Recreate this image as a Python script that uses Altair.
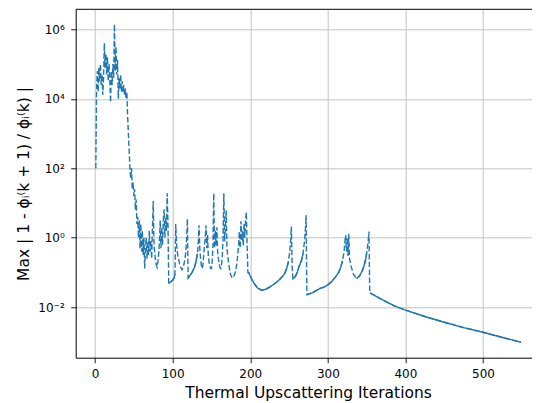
import altair as alt
import pandas as pd

# Iteration index and residual
ITER = [
    1, 2, 3, 4, 5, 6, 7, 8, 9, 10, 11, 12, 13, 14, 15, 16, 17, 18, 19, 20,
    21, 22, 23, 24, 25, 26, 27, 28, 29, 30, 31, 32, 33, 34, 35, 36, 37, 38, 39, 40,
    41, 42, 43, 44, 45, 46, 47, 48, 49, 50, 51, 52, 53, 54, 55, 56, 57, 58, 59, 60,
    61, 62, 63, 64, 65, 66, 67, 68, 69, 70, 71, 72, 73, 74, 75, 76, 77, 78, 79, 80,
    81, 82, 83, 84, 85, 86, 87, 88, 89, 90, 91, 92, 93, 94,
    95, 98, 100, 102, 103, 104, 105, 106, 107, 109, 111, 112, 114, 116, 117, 118, 119,
    120, 122, 125, 128, 130, 132, 133, 134,
    135, 136, 137, 138, 139, 140, 141, 142, 143, 144, 145, 146, 147, 148, 149, 150,
    151, 152, 153, 154, 155, 156, 157, 158, 159, 160, 161, 162, 163, 164, 165, 166,
    167, 168, 169, 170, 171, 172, 173, 174, 175, 176, 177, 178, 179, 180, 181, 182,
    183, 184, 185, 186, 187, 188, 189, 190, 191, 192, 193, 194, 195, 196, 197,
    198, 202, 206, 210, 215, 220, 225, 230, 235, 240, 244, 247, 249, 251, 252, 253,
    254, 255, 258, 260, 263, 266, 268, 270, 271, 272,
    273, 280, 285, 290, 295, 300, 305, 310, 314, 317, 319, 321, 322,
    323, 324, 325, 326, 327, 328, 330, 333, 337, 341, 345, 348, 350, 352, 353,
    354, 370, 385, 400, 425, 450, 475, 500, 525, 549,
]
RESID = [
    1.0e2, 2.0e4, 6.3e4, 1.6e4, 7.9e4, 3.2e4, 1.0e5, 2.5e4, 5.0e4, 1.3e4,
    4.0e4, 4.0e5, 7.9e4, 2.0e5, 5.0e4, 1.6e5, 3.2e4, 1.0e5, 4.0e4, 7.9e3,
    6.3e4, 2.5e4, 1.0e5, 4.0e4, 1.4e6, 6.3e4, 3.2e5, 5.0e4, 1.3e5, 1.0e4,
    4.0e4, 2.0e4, 5.0e4, 1.6e4, 3.2e4, 1.6e4, 2.5e4, 1.3e4, 2.0e4, 1.0e4,
    1.6e4, 3.2e3, 1.0e3, 3.2e2, 1.0e2, 50, 100, 25, 40, 16,
    25, 6.3, 12.6, 2.5, 4.0, 1.0, 3.2, 0.5, 2.5, 0.4,
    1.6, 0.32, 1.0, 0.13, 0.5, 1.0, 0.25, 0.8, 0.32, 1.6,
    0.4, 0.8, 0.25, 2.0, 11.5, 0.63, 0.35, 0.22, 0.16, 0.14,
    0.2, 0.35, 0.8, 3.2, 0.5, 2.0, 0.63, 3.2, 6.6, 1.0, 4.0, 1.6, 19, 2.5,
    0.048, 0.055, 0.06, 0.07, 0.09, 2.5, 0.7, 0.4, 0.28, 0.18, 0.13, 0.12, 0.15, 0.25, 0.4, 0.9, 3.5,
    0.069, 0.08, 0.1, 0.14, 0.2, 0.35, 0.7, 2.3,
    0.5, 0.25, 0.16, 0.13, 0.16, 0.3, 0.6, 1.0, 2.3, 0.5, 1.2, 0.3, 0.2, 0.16, 0.13, 0.13,
    0.2, 0.6, 19, 0.5, 1.6, 0.6, 2.0, 0.4, 0.25, 0.18, 0.14, 0.13, 0.16, 0.3, 1.0, 19,
    0.8, 2.0, 6.2, 0.5, 0.3, 0.2, 0.14, 0.1, 0.085, 0.075, 0.07, 0.07, 0.08, 0.09, 0.11, 0.14,
    0.2, 0.35, 0.6, 1.5, 0.5, 3.0, 0.8, 1.6, 0.6, 2.5, 1.0, 3.2, 5.5, 0.6, 0.1,
    0.1, 0.063, 0.045, 0.035, 0.031, 0.033, 0.038, 0.045, 0.055, 0.07, 0.09, 0.13, 0.2, 0.4, 0.8, 2.1,
    0.15, 0.066, 0.076, 0.093, 0.15, 0.22, 0.35, 0.8, 1.6, 4.5,
    0.023, 0.026, 0.030, 0.035, 0.038, 0.044, 0.055, 0.075, 0.1, 0.15, 0.22, 0.4, 0.8,
    1.2, 0.4, 1.0, 0.3, 1.3, 0.25, 0.15, 0.09, 0.066, 0.08, 0.12, 0.2, 0.35, 0.8, 1.5,
    0.026, 0.0166, 0.0112, 0.0083, 0.0054, 0.0037, 0.0026, 0.0019, 0.00135, 0.00098,
]
# Iteration ranges where the curve is drawn as a smooth solid line
SOLID_RANGES = [(95, 103), (120, 132), (198, 249), (255, 268), (273, 319), (337, 350), (354, 549)]

X_TICKS = [0, 100, 200, 300, 400, 500]
Y_TICKS = [1e-2, 1, 1e2, 1e4, 1e6]

df = pd.DataFrame({"iter": ITER, "resid": RESID})
solid_parts = []
for k, (a, b) in enumerate(SOLID_RANGES):
    part = df[(df["iter"] >= a) & (df["iter"] <= b)].copy()
    part["seg"] = k
    solid_parts.append(part)
df_solid = pd.concat(solid_parts, ignore_index=True)

BLUE = "#1f77b4"
W, H = 456.3, 348.4

x_enc = alt.X(
    "iter:Q",
    scale=alt.Scale(domain=[-24.9, 563.1], nice=False, zero=False),
    axis=alt.Axis(
        values=X_TICKS,
        title="Thermal Upscattering Iterations",
        titleX=232.3,
        titleY=39.5,
        titleBaseline="alphabetic",
        titleAlign="center",
        labelPadding=5.5,
    ),
)
y_enc = alt.Y(
    "resid:Q",
    scale=alt.Scale(type="log", domain=[3.53e-4, 3.77e6], nice=False),
    axis=alt.Axis(
        values=Y_TICKS,
        labelExpr="['10⁻²','10⁻¹','10⁰','10¹','10²','10³','10⁴','10⁵','10⁶'][round(log(datum.value)/LN10)+2]",
        title="Max | 1 - ϕᵢ⁽k + 1) / ϕᵢ⁽k) |",
        titleX=-47.5,
        titleY=H / 2,
        titleAngle=270,
        titleBaseline="alphabetic",
        titleAlign="center",
        labelPadding=6.5,
    ),
)

dashed = alt.Chart(df).mark_line(
    color=BLUE, strokeWidth=1.4, strokeDash=[5.5, 2.4]
).encode(x=x_enc, y=y_enc)

solid = alt.Chart(df_solid).mark_line(
    color=BLUE, strokeWidth=1.4
).encode(x="iter:Q", y="resid:Q", detail="seg:N")

# top spine of the axes frame
top_spine = alt.Chart(pd.DataFrame({"k": [0]})).mark_rule(
    color="black", strokeWidth=1
).encode(x=alt.value(0), x2=alt.value(W), y=alt.value(0))

chart = (
    alt.layer(dashed, solid, top_spine)
    .properties(
        width=W,
        height=H,
        autosize=alt.AutoSizeParams(type="none"),
        padding={"left": 67.7, "top": 1.3, "right": 0, "bottom": 45},
    )
    .configure_view(strokeWidth=0)
    .configure_axis(
        grid=True,
        gridColor="#c4c4c4",
        gridWidth=1,
        domain=True,
        domainColor="black",
        domainWidth=1,
        tickColor="black",
        tickSize=5,
        tickWidth=0.9,
        labelFont="DejaVu Sans",
        labelFontSize=12,
        labelColor="black",
        titleFont="DejaVu Sans",
        titleFontSize=15.5,
        titleFontWeight="normal",
        titleColor="black",
    )
)

chart.save("out.html", embed_options={"renderer": "svg", "actions": False})
